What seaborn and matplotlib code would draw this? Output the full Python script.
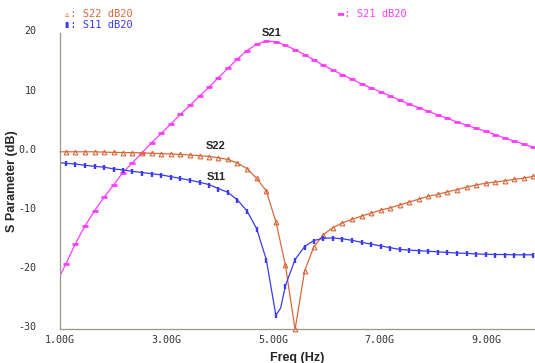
import numpy as np
import pandas as pd
import seaborn as sns
import matplotlib
matplotlib.use('Agg')
import matplotlib.pyplot as plt
import matplotlib.transforms as mtransforms
from matplotlib.ticker import MultipleLocator, FixedLocator

# sweep frequency (GHz); first entry is the trace start, no marker drawn there
freq = [1.00,
        1.11, 1.29, 1.47, 1.65, 1.83, 2.01, 2.18, 2.36, 2.54, 2.72,
        2.90, 3.08, 3.26, 3.44, 3.62, 3.80, 3.97, 4.15, 4.33, 4.51,
        4.69, 4.87, 5.05, 5.23, 5.41, 5.59, 5.76, 5.94, 6.12, 6.30,
        6.48, 6.66, 6.84, 7.02, 7.20, 7.38, 7.55, 7.73, 7.91, 8.09,
        8.27, 8.45, 8.63, 8.81, 8.99, 9.17, 9.34, 9.52, 9.70, 9.88]

s21 = [-20.9,
       -18.95, -15.5, -12.5, -9.95, -7.64, -5.55, -3.5, -1.84, -0.15, 1.54,
       3.1, 4.7, 6.33, 7.85, 9.43, 10.95, 12.5, 14.1, 15.7, 17.1,
       18.2, 18.7, 18.6, 18.0, 17.25, 16.4, 15.56, 14.6, 13.8, 13.0,
       12.25, 11.45, 10.78, 10.1, 9.43, 8.7, 8.07, 7.45, 6.84, 6.2,
       5.66, 5.03, 4.48, 3.97, 3.46, 2.9, 2.33, 1.82, 1.32, 0.76]

s22 = [0.0,
       0.0, 0.0, 0.0, 0.0, -0.05, -0.1, -0.12, -0.15, -0.17, -0.25,
       -0.3, -0.37, -0.45, -0.55, -0.65, -0.8, -1.0, -1.3, -1.9, -2.85,
       -4.5, -6.6, -11.8, -19.2, -30.0, -20.1, -16.1, -14.0, -12.8, -12.0,
       -11.4, -10.85, -10.35, -9.85, -9.45, -8.95, -8.5, -8.0, -7.5, -7.2,
       -6.75, -6.4, -5.95, -5.6, -5.3, -5.1, -4.9, -4.65, -4.45, -4.15]

s11 = [-1.85,
       -1.95, -2.06, -2.28, -2.45, -2.6, -2.9, -3.07, -3.3, -3.5, -3.7,
       -3.9, -4.2, -4.5, -4.8, -5.15, -5.55, -6.2, -6.85, -8.15, -10.0,
       -13.0, -18.2, -27.6, -22.6, -18.2, -16.0, -15.0, -14.6, -14.55, -14.7,
       -14.95, -15.3, -15.6, -15.9, -16.2, -16.5, -16.6, -16.7, -16.8, -16.9,
       -17.0, -17.1, -17.15, -17.25, -17.3, -17.35, -17.35, -17.4, -17.4, -17.4]
# small kink in S11 just after its minimum
s11_kink_f = 5.14
s11_kink_v = -26.4

x_ticks = [1, 3, 5, 7, 9]
x_labels = ['1.00G', '3.00G', '5.00G', '7.00G', '9.00G']
y_ticks = [-30, -20, -10, 0, 10, 20]
y_labels = ['-30', '-20', '-10', '0.0', '10', '20']

c_s21 = '#ff3cff'
c_s22 = '#d8693a'
c_s11 = '#3a3af5'

sns.set_style('white')
plt.rcParams['font.family'] = ['Liberation Sans', 'DejaVu Sans']

fig = plt.figure(figsize=(5.35, 3.63), dpi=100)
ax = fig.add_axes([60 / 535, 1 - 329.4 / 363, 475 / 535, (329.4 - 33.4) / 363])

df21 = pd.DataFrame({'f': freq, 'v': s21})
df22 = pd.DataFrame({'f': freq, 'v': s22})
f11 = freq[:24] + [s11_kink_f] + freq[24:]
v11 = s11[:24] + [s11_kink_v] + s11[24:]
df11 = pd.DataFrame({'f': f11, 'v': v11})
mk11 = [i for i in range(1, len(f11)) if i != 24]

sns.lineplot(data=df21, x='f', y='v', ax=ax, color=c_s21, lw=0.9,
             marker='_', markersize=4, markeredgewidth=2.0,
             markeredgecolor=c_s21, markevery=slice(1, None))
sns.lineplot(data=df22, x='f', y='v', ax=ax, color=c_s22, lw=0.9,
             marker='^', markersize=3.4, markerfacecolor='none',
             markeredgecolor=c_s22, markeredgewidth=0.8,
             markevery=slice(1, None), clip_on=False)
sns.lineplot(data=df11, x='f', y='v', ax=ax, color=c_s11, lw=0.9,
             marker='|', markersize=3.6, markeredgewidth=1.7,
             markeredgecolor=c_s11, markevery=mk11)

ax.set_xlim(1.0, 9.912)
ax.set_ylim(-30, 20)

ax.xaxis.set_major_locator(FixedLocator(x_ticks))
ax.set_xticklabels(x_labels)
ax.xaxis.set_minor_locator(MultipleLocator(0.2))
ax.yaxis.set_major_locator(FixedLocator(y_ticks))
ax.set_yticklabels(y_labels)
ax.yaxis.set_minor_locator(MultipleLocator(1.25))

for side in ['top', 'right']:
    ax.spines[side].set_visible(False)
for side in ['left', 'bottom']:
    ax.spines[side].set_color('#9a968a')
    ax.spines[side].set_linewidth(0.9)

ax.tick_params(which='major', direction='in', length=5, width=0.9, color='#6e6a60',
               labelsize=7.2, labelcolor='#333333', pad=4)
ax.tick_params(which='minor', direction='in', length=2.5, width=0.8, color='#8a867a')
ax.tick_params(axis='y', which='major', pad=17)
for lab in ax.get_xticklabels() + ax.get_yticklabels():
    lab.set_family(['DejaVu Sans Mono', 'DejaVu Sans'])
off = mtransforms.ScaledTranslation(0, 3 / 100, fig.dpi_scale_trans)
for lab in ax.yaxis.get_majorticklabels():
    lab.set_transform(lab.get_transform() + off)

ax.set_xlabel('Freq (Hz)', fontsize=9, fontweight='bold', labelpad=5)
ax.set_ylabel('S Parameter (dB)', fontsize=9, fontweight='bold', labelpad=4)
ax.yaxis.set_label_coords(-42 / 475, 0.5)

ax.text(4.97, 20.1, 'S21', fontsize=8, fontweight='bold', ha='center', va='center')
ax.text(3.92, 1.0, 'S22', fontsize=8, fontweight='bold', ha='center', va='center')
ax.text(3.93, -4.3, 'S11', fontsize=8, fontweight='bold', ha='center', va='center')

mono = ['DejaVu Sans Mono', 'DejaVu Sans']
fig.text(64 / 535, 1 - 14 / 363, '\u25b5: S22 dB20', color=c_s22, fontsize=7.5,
         family=mono, va='center', ha='left')
fig.text(64 / 535, 1 - 25 / 363, '\u25ae: S11 dB20', color=c_s11, fontsize=7.5,
         family=mono, va='center', ha='left')
fig.text(338 / 535, 1 - 14 / 363, '\u25ac: S21 dB20', color=c_s21, fontsize=7.5,
         family=mono, va='center', ha='left')

fig.savefig('out.png', dpi=100)
